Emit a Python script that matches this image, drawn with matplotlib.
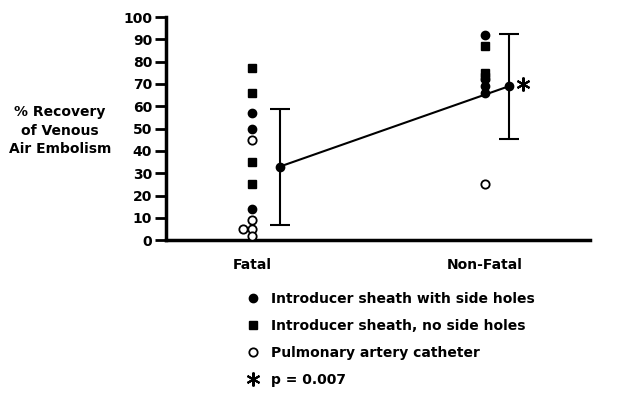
#!/usr/bin/env python3

import matplotlib
matplotlib.use("Agg")
import matplotlib.pyplot as plt
from matplotlib.lines import Line2D

import matplotlib as mpl
mpl.rcParams['font.family'] = ['DejaVu Sans']
mpl.rcParams['font.weight'] = 'bold'

# data (% recovery)
groups = ["Fatal", "Non-Fatal"]
fatal_side_holes = [57, 50, 14]
fatal_no_side_holes = [77, 66, 35, 25]
fatal_pa_catheter = [45, 9, 5, 5, 2]
nonfatal_side_holes = [92, 72, 69, 66]
nonfatal_no_side_holes = [87, 75, 73]
nonfatal_pa_catheter = [25]
group_mean = [33, 69]
group_sd = [26, 23.5]
y_ticks = list(range(0, 101, 10))
legend_labels = ["Introducer sheath with side holes",
                 "Introducer sheath, no side holes",
                 "Pulmonary artery catheter",
                 "p = 0.007"]


def scatter_group(ax, xpos, circles, squares, opens):
    ms = dict(clip_on=False, zorder=3, linestyle='none')
    ax.plot([xpos] * len(circles), circles, marker='o', ms=6, color='black', **ms)
    ax.plot([xpos] * len(squares), squares, marker='s', ms=5.5, color='black', **ms)
    # nudge repeated values sideways so they stay visible
    xs, seen = [], set()
    for v in opens:
        xs.append(xpos - 0.04 if v in seen else xpos)
        seen.add(v)
    ax.plot(xs, opens, marker='o', ms=6, mfc='white', mec='black', mew=1.3, **ms)


def main():
    fig = plt.figure(figsize=(6.19, 4.05), dpi=100)
    ax = fig.add_axes([0.268, 0.407, 0.685, 0.551])

    scatter_group(ax, 1, fatal_side_holes, fatal_no_side_holes, fatal_pa_catheter)
    scatter_group(ax, 2, nonfatal_side_holes, nonfatal_no_side_holes, nonfatal_pa_catheter)

    mean_x = [1.12, 2.103]
    ax.errorbar(mean_x, group_mean, yerr=group_sd, fmt='-o', color='black', ms=6,
                lw=1.5, elinewidth=1.5, capsize=7, capthick=1.5, zorder=4)
    ax.plot(mean_x[1] + 0.058, group_mean[1] + 1, marker=(6, 2, 0), ms=10,
            mew=1.5, color='black')

    ax.set_xlim(0.63, 2.45)
    ax.set_ylim(0, 100)
    ax.set_yticks(y_ticks)
    ax.set_xticks([1, 2])
    ax.set_xticklabels(groups, fontsize=10)
    ax.tick_params(axis='x', length=0, pad=13)
    ax.tick_params(axis='y', direction='out', length=8, width=2, labelsize=10, pad=2)
    for s in ['top', 'right']:
        ax.spines[s].set_visible(False)
    for s in ['left', 'bottom']:
        ax.spines[s].set_linewidth(2.5)

    fig.text(0.097, 0.677, "% Recovery\nof Venous\nAir Embolism", ha='center', va='center',
             fontsize=10, linespacing=1.4)

    handles = [
        Line2D([], [], ls='none', marker='o', ms=6, color='black'),
        Line2D([], [], ls='none', marker='s', ms=5.5, color='black'),
        Line2D([], [], ls='none', marker='o', ms=6, mfc='white', mec='black', mew=1.3),
        Line2D([], [], ls='none', marker=(6, 2, 0), ms=10, mew=1.5, color='black'),
    ]
    fig.legend(handles, legend_labels, loc='upper left', bbox_to_anchor=(0.387, 0.296),
               frameon=False, fontsize=10, labelspacing=0.93, handlelength=1.0,
               handletextpad=0.8, borderpad=0)

    fig.savefig("out.png", dpi=100)
    plt.close(fig)


if __name__ == "__main__":
    main()
